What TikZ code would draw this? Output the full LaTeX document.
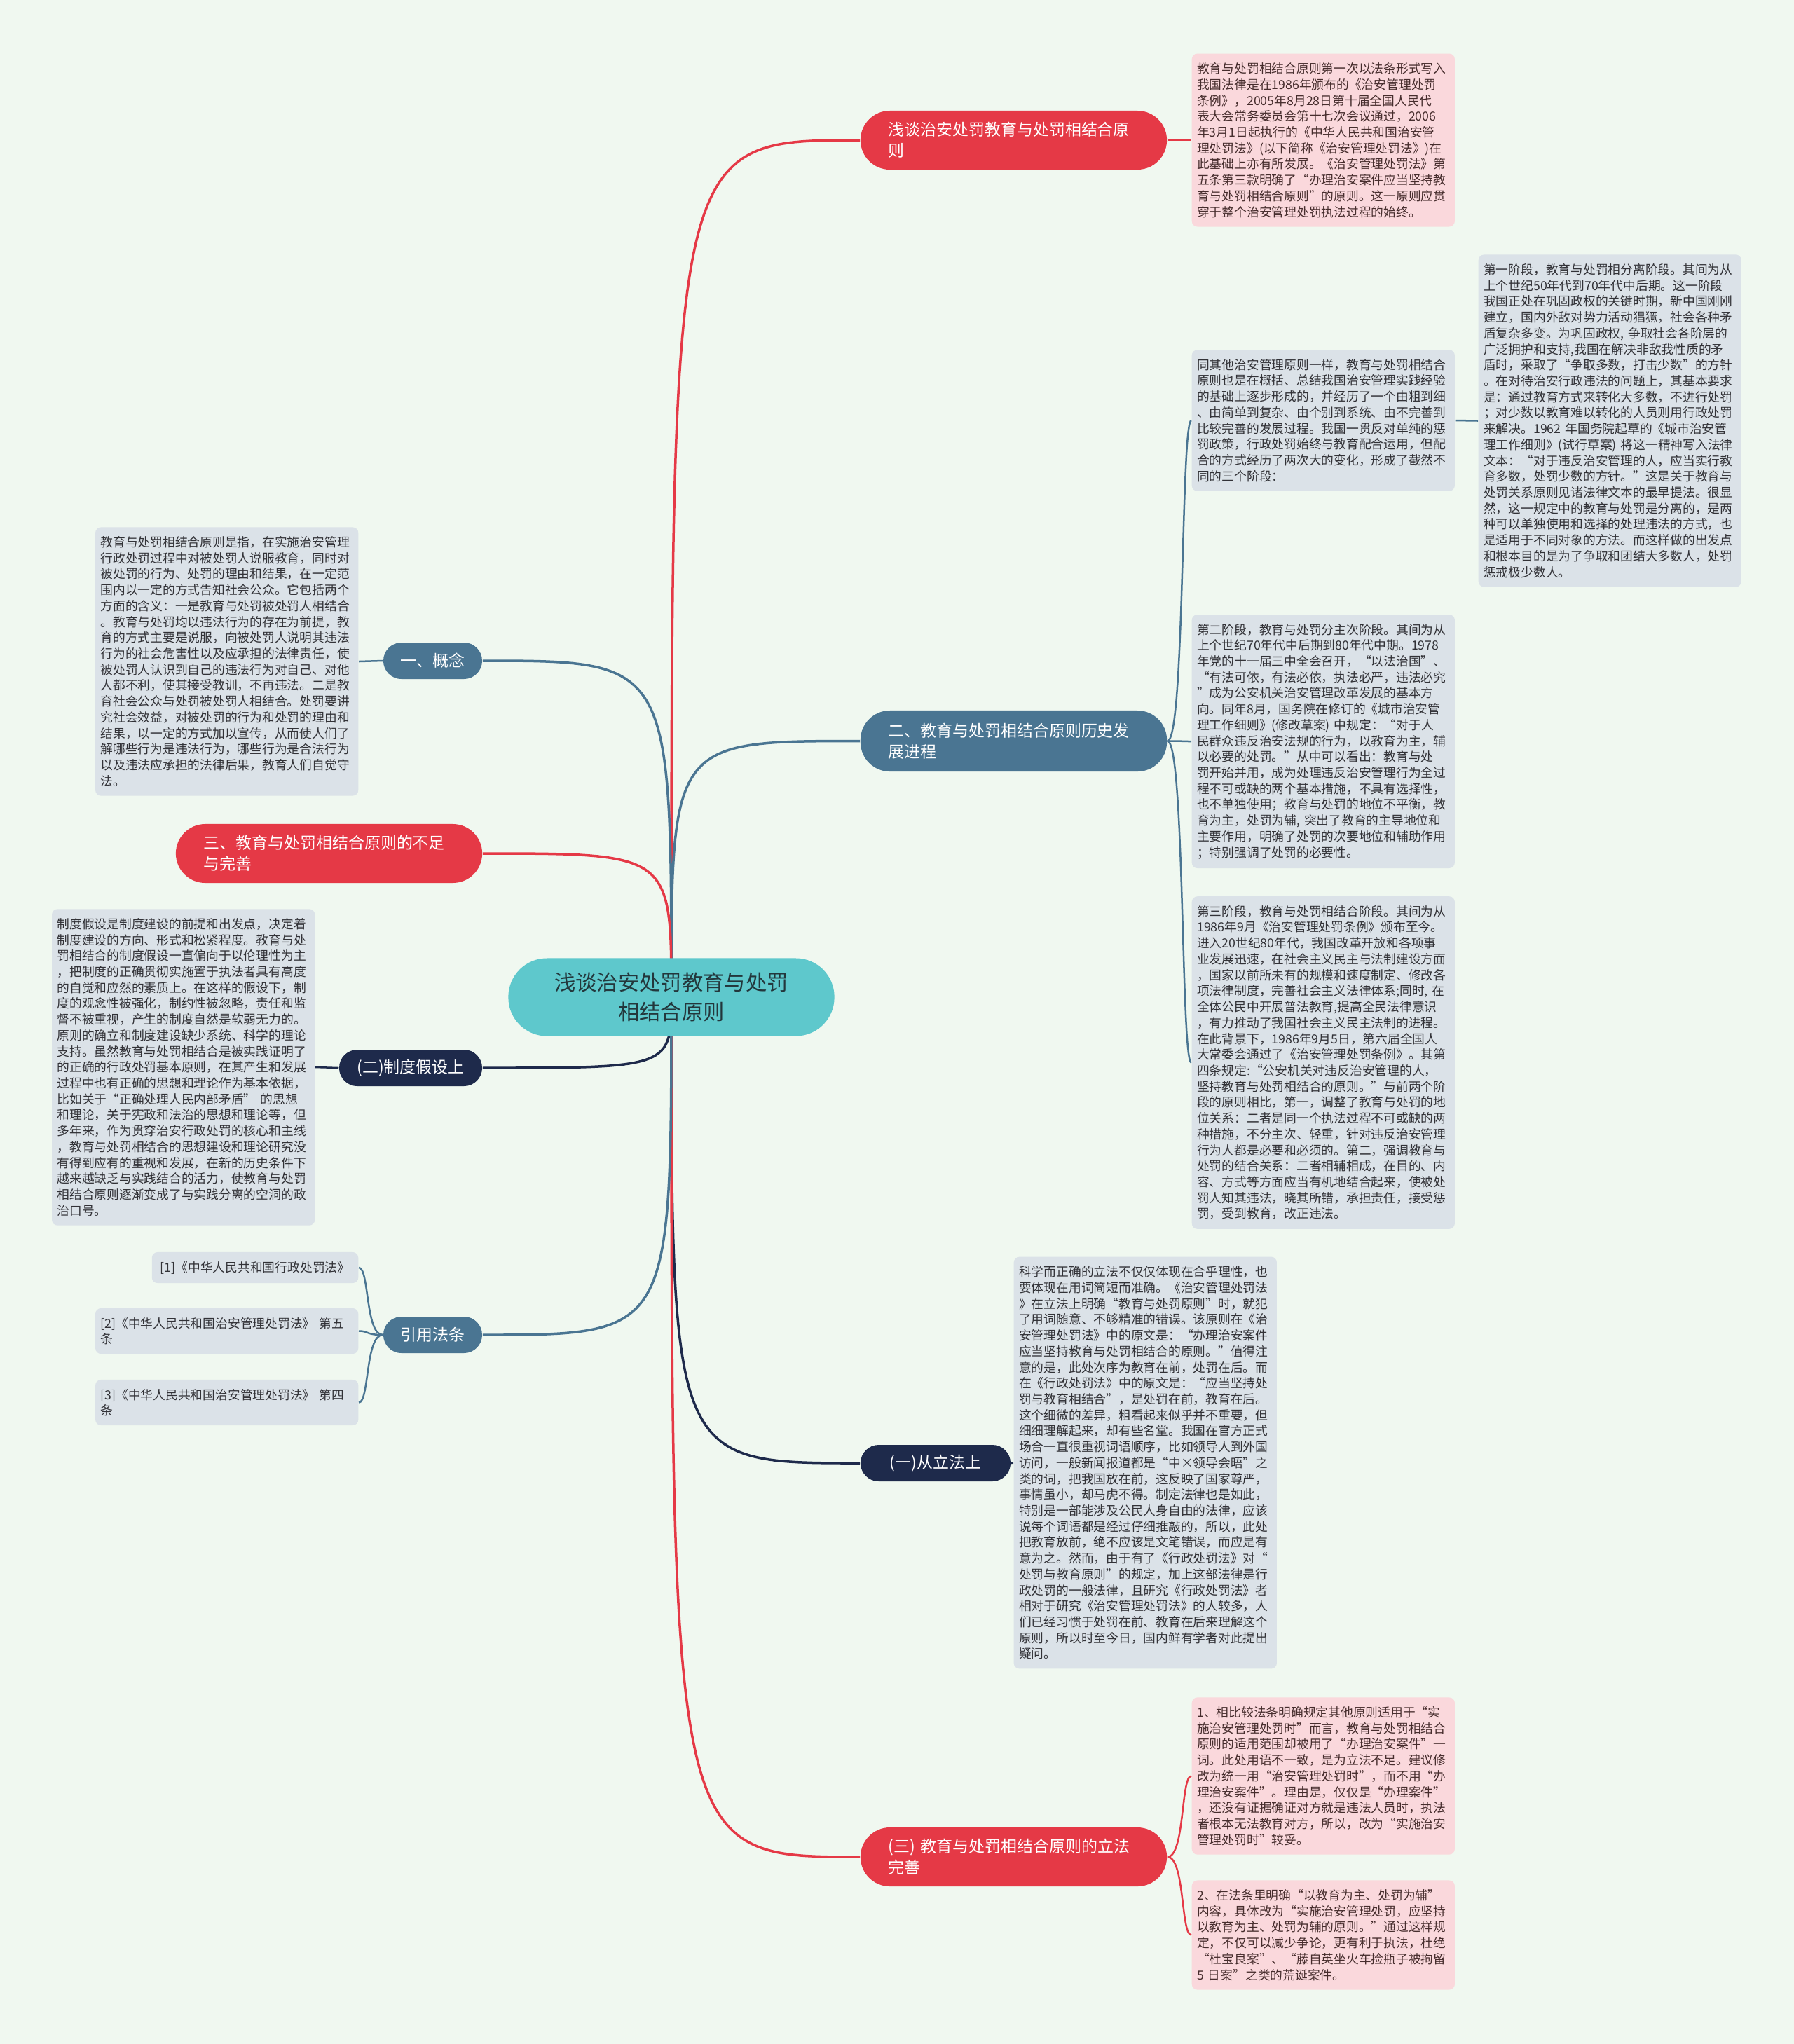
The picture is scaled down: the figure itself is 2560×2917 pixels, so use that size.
\documentclass[tikz,border=0pt]{standalone}
\usepackage{fontspec}
\setmainfont{Noto Sans CJK SC}
\usetikzlibrary{backgrounds}
\definecolor{fondo}{RGB}{240,248,240}
\definecolor{turquesa}{RGB}{94,200,204}
\definecolor{textoctr}{RGB}{35,55,60}
\definecolor{rojo}{RGB}{229,57,70}
\definecolor{azul}{RGB}{74,117,146}
\definecolor{marino}{RGB}{30,42,75}
\definecolor{grisclaro}{RGB}{219,226,232}
\definecolor{rosa}{RGB}{250,216,220}
\definecolor{textogris}{RGB}{50,50,55}
\definecolor{textorosa}{RGB}{70,45,45}
\tikzset{
  ctrnode/.style={fill=turquesa, text=textoctr, rounded corners=5.5mm, minimum width=46.5mm,
    minimum height=11.1mm, align=center, font=\fontsize{8.62pt}{11.87pt}\selectfont},
  twoline/.style={text=white, rounded corners=4.2mm, minimum width=43.7mm, minimum height=8.4mm,
    text width=35.7mm, inner xsep=4mm, align=left, font=\fontsize{6.52pt}{8.54pt}\selectfont},
  oneline/.style={text=white, rounded corners=2.6mm, minimum height=5.2mm, inner xsep=0mm,
    align=center, font=\fontsize{6.52pt}{8.54pt}\selectfont},
  leaf/.style={fill=grisclaro, text=textogris, rounded corners=0.8mm, text width=36mm,
    inner xsep=0.75mm, inner ysep=1.3mm, align=left, font=\fontsize{5.05pt}{6.46pt}\selectfont},
  leafpink/.style={leaf, fill=rosa, text=textorosa},
  link/.style={line width=0.35mm},
  sublink/.style={line width=0.25mm}
}
\begin{document}
\begin{tikzpicture}[x=0.01cm, y=-0.01cm]
  \useasboundingbox (0,0) rectangle (2560,2917);

  % Nodo central
  \node[ctrnode] (ctr) at (958,1423) {浅谈治安处罚教育与处罚\\相结合原则};

  % Ramas derechas
  \node[twoline, fill=rojo] (rtop) at (1446.5,200) {浅谈治安处罚教育与处罚相结合原\\则};
  \node[twoline, fill=azul, minimum height=8.7mm] (rhist) at (1446.5,1057.5) {二、教育与处罚相结合原则历史发\\展进程};
  \node[oneline, fill=marino, minimum width=21.4mm] (rlaw) at (1335,2088) {(一)从立法上};
  \node[twoline, fill=rojo] (rperf) at (1446.5,2650) {(三) 教育与处罚相结合原则的立法\\完善};

  % Ramas izquierdas
  \node[oneline, fill=azul, minimum width=14.1mm] (lconc) at (617.5,943) {一、概念};
  \node[twoline, fill=rojo] (llack) at (469.5,1218) {三、教育与处罚相结合原则的不足\\与完善};
  \node[oneline, fill=marino, minimum width=20.4mm] (lsys) at (586,1524) {(二)制度假设上};
  \node[oneline, fill=azul, minimum width=14.1mm] (lref) at (617.5,1905) {引用法条};

  % Hoja de la rama superior
  \node[leafpink, anchor=west] (tA) at (1700,200) {教育与处罚相结合原则第一次以法条形式写入\\
我国法律是在1986年颁布的《治安管理处罚\\
条例》，2005年8月28日第十届全国人民代\\
表大会常务委员会第十七次会议通过，2006\\
年3月1日起执行的《中华人民共和国治安管\\
理处罚法》(以下简称《治安管理处罚法》)在\\
此基础上亦有所发展。《治安管理处罚法》第\\
五条第三款明确了“办理治安案件应当坚持教\\
育与处罚相结合原则”的原则。这一原则应贯\\
穿于整个治安管理处罚执法过程的始终。};

  % Hojas del desarrollo historico
  \node[leaf, anchor=west] (hC) at (1700,600) {同其他治安管理原则一样，教育与处罚相结合\\
原则也是在概括、总结我国治安管理实践经验\\
的基础上逐步形成的，并经历了一个由粗到细\\
、由简单到复杂、由个别到系统、由不完善到\\
比较完善的发展过程。我国一贯反对单纯的惩\\
罚政策，行政处罚始终与教育配合运用，但配\\
合的方式经历了两次大的变化，形成了截然不\\
同的三个阶段：};
  \node[leaf, anchor=west] (hB) at (2109,600.5) {第一阶段，教育与处罚相分离阶段。其间为从\\
上个世纪50年代到70年代中后期。这一阶段\\
我国正处在巩固政权的关键时期，新中国刚刚\\
建立，国内外敌对势力活动猖獗，社会各种矛\\
盾复杂多变。为巩固政权, 争取社会各阶层的\\
广泛拥护和支持,我国在解决非敌我性质的矛\\
盾时，采取了“争取多数，打击少数”的方针\\
。在对待治安行政违法的问题上，其基本要求\\
是：通过教育方式来转化大多数，不进行处罚\\
；对少数以教育难以转化的人员则用行政处罚\\
来解决。1962 年国务院起草的《城市治安管\\
理工作细则》(试行草案) 将这一精神写入法律\\
文本：“对于违反治安管理的人，应当实行教\\
育多数，处罚少数的方针。”这是关于教育与\\
处罚关系原则见诸法律文本的最早提法。很显\\
然，这一规定中的教育与处罚是分离的，是两\\
种可以单独使用和选择的处理违法的方式，也\\
是适用于不同对象的方法。而这样做的出发点\\
和根本目的是为了争取和团结大多数人，处罚\\
惩戒极少数人。};
  \node[leaf, anchor=west] (hD) at (1700,1058) {第二阶段，教育与处罚分主次阶段。其间为从\\
上个世纪70年代中后期到80年代中期。1978\\
年党的十一届三中全会召开，“以法治国”、\\
“有法可依，有法必依，执法必严，违法必究\\
”成为公安机关治安管理改革发展的基本方\\
向。同年8月，国务院在修订的《城市治安管\\
理工作细则》(修改草案) 中规定：“对于人\\
民群众违反治安法规的行为，以教育为主，辅\\
以必要的处罚。”从中可以看出：教育与处\\
罚开始并用，成为处理违反治安管理行为全过\\
程不可或缺的两个基本措施，不具有选择性，\\
也不单独使用；教育与处罚的地位不平衡，教\\
育为主，处罚为辅, 突出了教育的主导地位和\\
主要作用，明确了处罚的次要地位和辅助作用\\
；特别强调了处罚的必要性。};
  \node[leaf, anchor=west] (hE) at (1700,1516.5) {第三阶段，教育与处罚相结合阶段。其间为从\\
1986年9月《治安管理处罚条例》颁布至今。\\
进入20世纪80年代，我国改革开放和各项事\\
业发展迅速，在社会主义民主与法制建设方面\\
，国家以前所未有的规模和速度制定、修改各\\
项法律制度，完善社会主义法律体系;同时, 在\\
全体公民中开展普法教育,提高全民法律意识\\
，有力推动了我国社会主义民主法制的进程。\\
在此背景下，1986年9月5日，第六届全国人\\
大常委会通过了《治安管理处罚条例》。其第\\
四条规定:“公安机关对违反治安管理的人，\\
坚持教育与处罚相结合的原则。”与前两个阶\\
段的原则相比，第一，调整了教育与处罚的地\\
位关系：二者是同一个执法过程不可或缺的两\\
种措施，不分主次、轻重，针对违反治安管理\\
行为人都是必要和必须的。第二，强调教育与\\
处罚的结合关系：二者相辅相成，在目的、内\\
容、方式等方面应当有机地结合起来，使被处\\
罚人知其违法，晓其所错，承担责任，接受惩\\
罚，受到教育，改正违法。};

  % Hoja de la rama legislativa
  \node[leaf, anchor=west] (lawI) at (1446,2087.5) {科学而正确的立法不仅仅体现在合乎理性，也\\
要体现在用词简短而准确。《治安管理处罚法\\
》在立法上明确“教育与处罚原则”时，就犯\\
了用词随意、不够精准的错误。该原则在《治\\
安管理处罚法》中的原文是：“办理治安案件\\
应当坚持教育与处罚相结合的原则。”值得注\\
意的是，此处次序为教育在前，处罚在后。而\\
在《行政处罚法》中的原文是：“应当坚持处\\
罚与教育相结合”，是处罚在前，教育在后。\\
这个细微的差异，粗看起来似乎并不重要，但\\
细细理解起来，却有些名堂。我国在官方正式\\
场合一直很重视词语顺序，比如领导人到外国\\
访问，一般新闻报道都是“中×领导会晤”之\\
类的词，把我国放在前，这反映了国家尊严，\\
事情虽小，却马虎不得。制定法律也是如此，\\
特别是一部能涉及公民人身自由的法律，应该\\
说每个词语都是经过仔细推敲的，所以，此处\\
把教育放前，绝不应该是文笔错误，而应是有\\
意为之。然而，由于有了《行政处罚法》对“\\
处罚与教育原则”的规定，加上这部法律是行\\
政处罚的一般法律，且研究《行政处罚法》者\\
相对于研究《治安管理处罚法》的人较多，人\\
们已经习惯于处罚在前、教育在后来理解这个\\
原则，所以时至今日，国内鲜有学者对此提出\\
疑问。};

  % Hojas de la rama de mejora
  \node[leafpink, anchor=west] (pJ1) at (1700,2534.5) {1、相比较法条明确规定其他原则适用于“实\\
施治安管理处罚时”而言，教育与处罚相结合\\
原则的适用范围却被用了“办理治安案件”一\\
词。此处用语不一致，是为立法不足。建议修\\
改为统一用“治安管理处罚时”，而不用“办\\
理治安案件”。理由是，仅仅是“办理案件”\\
，还没有证据确证对方就是违法人员时，执法\\
者根本无法教育对方，所以，改为“实施治安\\
管理处罚时”较妥。};
  \node[leafpink, anchor=west] (pJ2) at (1700,2761.5) {2、在法条里明确“以教育为主、处罚为辅”\\
内容，具体改为“实施治安管理处罚，应坚持\\
以教育为主、处罚为辅的原则。”通过这样规\\
定，不仅可以减少争论，更有利于执法，杜绝\\
“杜宝良案”、“藤自英坐火车捡瓶子被拘留\\
5 日案”之类的荒诞案件。};

  % Hojas izquierdas
  \node[leaf, anchor=east] (cF) at (512,944) {教育与处罚相结合原则是指，在实施治安管理\\
行政处罚过程中对被处罚人说服教育，同时对\\
被处罚的行为、处罚的理由和结果，在一定范\\
围内以一定的方式告知社会公众。它包括两个\\
方面的含义：一是教育与处罚被处罚人相结合\\
。教育与处罚均以违法行为的存在为前提，教\\
育的方式主要是说服，向被处罚人说明其违法\\
行为的社会危害性以及应承担的法律责任，使\\
被处罚人认识到自己的违法行为对自己、对他\\
人都不利，使其接受教训，不再违法。二是教\\
育社会公众与处罚被处罚人相结合。处罚要讲\\
究社会效益，对被处罚的行为和处罚的理由和\\
结果，以一定的方式加以宣传，从而使人们了\\
解哪些行为是违法行为，哪些行为是合法行为\\
以及违法应承担的法律后果，教育人们自觉守\\
法。};
  \node[leaf, anchor=east] (sG) at (450,1523) {制度假设是制度建设的前提和出发点，决定着\\
制度建设的方向、形式和松紧程度。教育与处\\
罚相结合的制度假设一直偏向于以伦理性为主\\
，把制度的正确贯彻实施置于执法者具有高度\\
的自觉和应然的素质上。在这样的假设下，制\\
度的观念性被强化，制约性被忽略，责任和监\\
督不被重视，产生的制度自然是软弱无力的。\\
原则的确立和制度建设缺少系统、科学的理论\\
支持。虽然教育与处罚相结合是被实践证明了\\
的正确的行政处罚基本原则，在其产生和发展\\
过程中也有正确的思想和理论作为基本依据，\\
比如关于“正确处理人民内部矛盾” 的思想\\
和理论，关于宪政和法治的思想和理论等，但\\
多年来，作为贯穿治安行政处罚的核心和主线\\
，教育与处罚相结合的思想建设和理论研究没\\
有得到应有的重视和发展，在新的历史条件下\\
越来越缺乏与实践结合的活力，使教育与处罚\\
相结合原则逐渐变成了与实践分离的空洞的政\\
治口号。};
  \node[leaf, anchor=east, text width=, inner xsep=1.2mm] (r1) at (512,1809) {[1]《中华人民共和国行政处罚法》};
  \node[leaf, anchor=east] (r2) at (512,1899.5) {[2]《中华人民共和国治安管理处罚法》 第五\\条};
  \node[leaf, anchor=east] (r3) at (512,2001.5) {[3]《中华人民共和国治安管理处罚法》 第四\\条};

  % Conectores
  \begin{pgfonlayer}{background}
    \fill[fondo] (0,0) rectangle (2560,2917);
    \draw[link, rojo] (ctr.center) .. controls (ctr.center |- rtop.west) .. (rtop.west);
    \draw[link, azul] (ctr.center) .. controls (ctr.center |- rhist.west) .. (rhist.west);
    \draw[link, marino] (ctr.center) .. controls (ctr.center |- rlaw.west) .. (rlaw.west);
    \draw[link, rojo] (ctr.center) .. controls (ctr.center |- rperf.west) .. (rperf.west);
    \draw[link, azul] (ctr.center) .. controls (ctr.center |- lconc.east) .. (lconc.east);
    \draw[link, rojo] (ctr.center) .. controls (ctr.center |- llack.east) .. (llack.east);
    \draw[link, marino] (ctr.center) .. controls (ctr.center |- lsys.east) .. (lsys.east);
    \draw[link, azul] (ctr.center) .. controls (ctr.center |- lref.east) .. (lref.east);

    \draw[sublink, rojo] (rtop.east) -- (tA.west);
    \foreach \h in {hC,hD,hE}
      \draw[sublink, azul] (rhist.east) .. controls +(25,0) and +(-15,0) .. (\h.west);
    \draw[sublink, azul] (hC.east) -- (hB.west);
    \draw[sublink, marino] (rlaw.east) -- (lawI.west);
    \foreach \h in {pJ1,pJ2}
      \draw[sublink, rojo] (rperf.east) .. controls +(25,0) and +(-15,0) .. (\h.west);
    \draw[sublink, azul] (lconc.west) -- (cF.east);
    \draw[sublink, marino] (lsys.west) -- (sG.east);
    \foreach \h in {r1,r2,r3}
      \draw[sublink, azul] (lref.west) .. controls +(-25,0) and +(15,0) .. (\h.east);
  \end{pgfonlayer}
\end{tikzpicture}
\end{document}
